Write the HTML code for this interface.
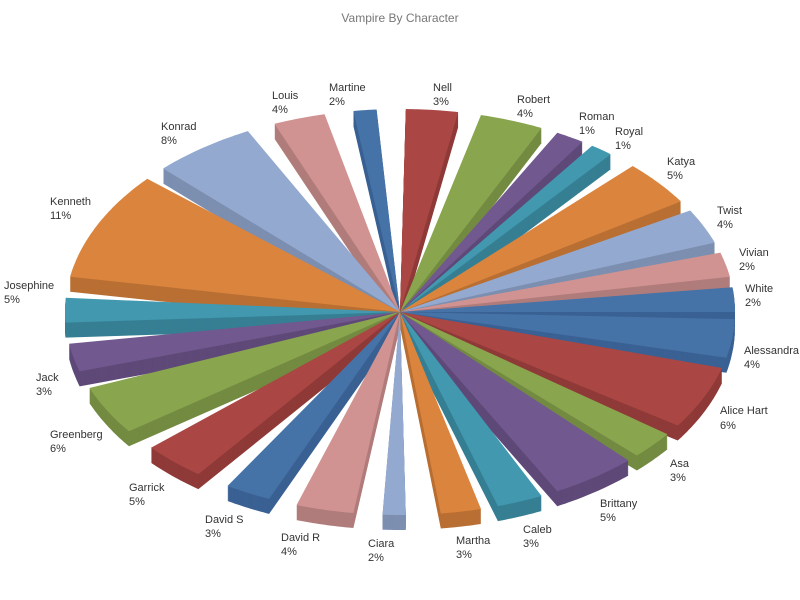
<!DOCTYPE html>
<html><head><meta charset="utf-8"><style>
html,body{margin:0;padding:0;background:#fff;}
svg{display:block;font-family:"Liberation Sans","DejaVu Sans",sans-serif;}
.l{font-size:11px;fill:#333;}
</style></head><body>
<svg id="s" width="800" height="600" viewBox="0 0 800 600">
<rect width="800" height="600" fill="#fff"/>
<g id="pie"></g>
<text x="400" y="22" text-anchor="middle" style="font-size:12px;fill:#777">Vampire By Character</text>
<g class="l">
<text x="433" y="91">Nell</text><text x="433" y="105">3%</text>
<text x="517" y="103">Robert</text><text x="517" y="117">4%</text>
<text x="579" y="120">Roman</text><text x="579" y="134">1%</text>
<text x="615" y="135">Royal</text><text x="615" y="149">1%</text>
<text x="667" y="165">Katya</text><text x="667" y="179">5%</text>
<text x="717" y="214">Twist</text><text x="717" y="228">4%</text>
<text x="739" y="256">Vivian</text><text x="739" y="270">2%</text>
<text x="745" y="292">White</text><text x="745" y="306">2%</text>
<text x="744" y="354">Alessandra</text><text x="744" y="368">4%</text>
<text x="720" y="414">Alice Hart</text><text x="720" y="429">6%</text>
<text x="670" y="467">Asa</text><text x="670" y="481">3%</text>
<text x="600" y="507">Brittany</text><text x="600" y="521">5%</text>
<text x="523" y="533">Caleb</text><text x="523" y="547">3%</text>
<text x="456" y="544">Martha</text><text x="456" y="558">3%</text>
<text x="368" y="547">Ciara</text><text x="368" y="561">2%</text>
<text x="281" y="541">David R</text><text x="281" y="555">4%</text>
<text x="205" y="523">David S</text><text x="205" y="537">3%</text>
<text x="129" y="491">Garrick</text><text x="129" y="505">5%</text>
<text x="50" y="438">Greenberg</text><text x="50" y="452">6%</text>
<text x="36" y="381">Jack</text><text x="36" y="395">3%</text>
<text x="4" y="289">Josephine</text><text x="4" y="303">5%</text>
<text x="50" y="205">Kenneth</text><text x="50" y="219">11%</text>
<text x="161" y="130">Konrad</text><text x="161" y="144">8%</text>
<text x="272" y="99">Louis</text><text x="272" y="113">4%</text>
<text x="329" y="91">Martine</text><text x="329" y="105">2%</text>
</g>
</svg>
<script>
var C={b:["#4572A7","#3a6193"],r:["#AA4643","#8f3a38"],g:["#89A54E","#738b41"],p:["#71588F","#5e4978"],t:["#4198AF","#367f93"],o:["#DB843D","#b96f33"],lb:["#93A9CF","#7c8fb0"],pk:["#D19392","#b07c7b"]};
var S=[[1,10,"r"],[14,25,"g"],[28,33,"p"],[35,39,"t"],[44,57,"o"],[60,70,"lb"],[73,80,"pk"],[83,90,"b"],[92,103,"b"],[106,124,"r"],[127,135,"g"],[137,152,"p"],[155,163,"t"],[166,173,"o"],[179,183,"lb"],[188,198,"pk"],[203,211,"b"],[217,228,"r"],[234,248,"g"],[253,261,"p"],[267,274,"t"],[280,311,"o"],[315,333,"lb"],[338,347,"pk"],[352,356,"b"]];
var cx=400,cy=312,rx=335,ry=203,D=15;
function path(a,b,dy){var s="M"+cx+","+(cy+dy);for(var t=a;t<=b+0.001;t+=0.5){var r=t*Math.PI/180;s+=" L"+(cx+rx*Math.sin(r)).toFixed(1)+","+(cy-ry*Math.cos(r)+dy).toFixed(1);}return s+"Z";}
S.sort(function(x,y){var m1=(x[0]+x[1])/2*Math.PI/180,m2=(y[0]+y[1])/2*Math.PI/180;return -Math.cos(m1)+Math.cos(m2);});
var h="";
S.forEach(function(s){var c=C[s[2]];for(var d=D;d>=1;d--)h+='<path d="'+path(s[0],s[1],d)+'" fill="'+c[1]+'"/>';h+='<path d="'+path(s[0],s[1],0)+'" fill="'+c[0]+'"/>';});
document.getElementById("pie").innerHTML=h;
</script>
</body></html>
